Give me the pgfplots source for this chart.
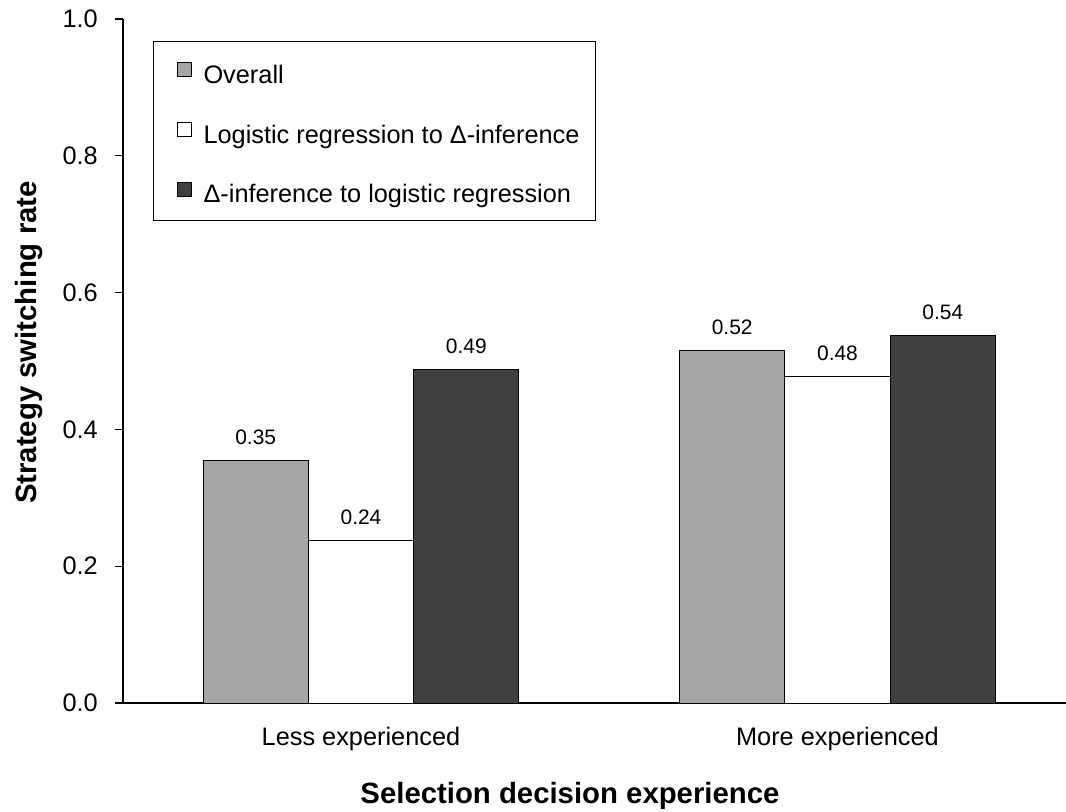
\documentclass[border=0pt]{standalone}
\usepackage{pgfplots}
\pgfplotsset{compat=1.18}
\usepackage{fontspec}
\setmainfont{Liberation Sans}

\definecolor{barlight}{HTML}{A6A6A6}
\definecolor{bardark}{HTML}{404040}
\newcommand{\tickfont}{\fontsize{19}{22}\selectfont}
\newcommand{\valfont}{\fontsize{15.7}{18}\selectfont}
\newcommand{\titlefont}{\fontsize{22}{26}\selectfont\bfseries}

\begin{document}
\begin{tikzpicture}
\begin{axis}[
  at={(0,0)}, anchor=south west,
  scale only axis, width=707.25pt, height=513pt,
  xmin=-0.4995, xmax=1.4796, ymin=0, ymax=1,
  axis x line*=bottom, axis y line*=left,
  axis line style={line width=0.9pt, black},
  ybar, bar width=0.221,
  xtick={0,1}, xticklabels={Less experienced, More experienced},
  xtick style={draw=none},
  xticklabel style={font=\tickfont, anchor=base, yshift=-26pt},
  ytick={0,0.2,0.4,0.6,0.8,1},
  ytick style={line width=0.8pt, black},
  tick align=outside, major tick length=6pt,
  /pgf/number format/assume math mode=true,
  yticklabel style={font=\tickfont, anchor=east, inner sep=0pt, xshift=-12.75pt,
    /pgf/number format/fixed, /pgf/number format/fixed zerofill,
    /pgf/number format/precision=1},
  xlabel={Selection decision experience},
  xlabel style={font=\titlefont, at={(axis description cs:0.474,-0.1462)}, anchor=base},
  ylabel={Strategy switching rate},
  ylabel style={font=\titlefont, at={(axis description cs:-0.0915,0.527)}, anchor=base},
  nodes near coords={\pgfmathprintnumber[fixed, fixed zerofill, precision=2]{\pgfplotspointmeta}},
  nodes near coords style={font=\valfont, anchor=base, inner sep=0pt, yshift=12pt, text=black},
  legend style={at={(0.0318,0.968)}, anchor=north west, draw=black, line width=0.8pt,
    inner xsep=12pt, inner ysep=12pt, row sep=24.2pt, font=\tickfont,
    nodes={inner sep=0pt, text height=19.5pt, text depth=1.1pt}},
  legend cell align=left,
  legend image code/.code={
    \path[draw=none, fill=none] (0pt,0pt) -- (25.5pt,0pt);
    \draw[#1, line width=0.75pt] (6pt,-4.25pt) rectangle (16.5pt,6.25pt);
  },
]
% overall switching rate
\addplot[bar shift=-0.221, fill=barlight, draw=black, line width=0.75pt]
  coordinates {(0,0.354) (1,0.516)};
% logistic regression -> Delta-inference
\addplot[bar shift=0, fill=white, draw=black, line width=0.75pt]
  coordinates {(0,0.238) (1,0.478)};
% Delta-inference -> logistic regression
\addplot[bar shift=0.221, fill=bardark, draw=black, line width=0.75pt]
  coordinates {(0,0.487) (1,0.537)};
\legend{Overall, Logistic regression to Δ-inference, Δ-inference to logistic regression}
\end{axis}
\pgfresetboundingbox
\path[use as bounding box] (-92.25pt,-81pt) rectangle (707.25pt,527.25pt);
\end{tikzpicture}
\end{document}
